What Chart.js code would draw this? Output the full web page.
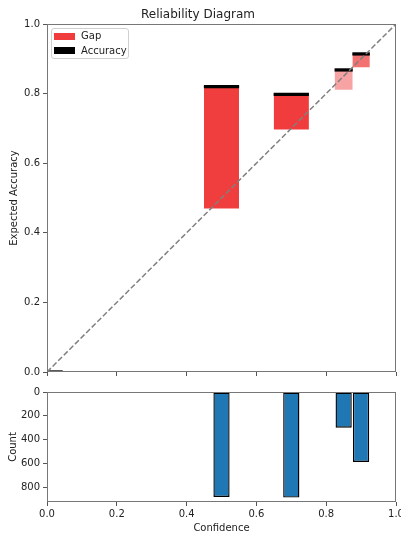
<!DOCTYPE html>
<html><head><meta charset="utf-8">
<script src="https://cdn.jsdelivr.net/npm/chart.js@4.4.1/dist/chart.umd.min.js"></script>
<style>
html,body{margin:0;padding:0;background:#fff;overflow:hidden}
#wrap{position:relative;width:401px;height:533px;font-family:"DejaVu Sans",sans-serif}
canvas{position:absolute;left:0}
#top{top:0}
#bot{top:380px}
#legend{position:absolute;left:51px;top:28px;width:76px;height:29px;border:1px solid #d0d0d0;border-radius:3px;background:rgba(255,255,255,0.8);font-size:10px;color:#222}
.sw{position:absolute;left:2px;width:21px;height:7px}
.lt{position:absolute;left:29px;line-height:12px;white-space:nowrap}
</style></head><body>
<div id="wrap">
<canvas id="top" width="401" height="380"></canvas>
<canvas id="bot" width="401" height="153"></canvas>
<div id="legend">
 <div class="sw" style="top:4px;background:rgb(240,60,60)"></div><div class="lt" style="top:1px">Gap</div>
 <div class="sw" style="top:18px;background:#000"></div><div class="lt" style="top:16px">Accuracy</div>
</div>
</div>
<script>
// ---- data ----
const binCenters   = [0.0, 0.5, 0.7, 0.85, 0.9];
const binWidths    = [0.09, 0.101, 0.101, 0.052, 0.05];
const accuracies   = [0.0, 0.820, 0.798, 0.868, 0.914];
const confidences  = [0.0, 0.470, 0.697, 0.811, 0.876];
const counts       = [0, 884, 889, 300, 589];
const histCenters  = [0.0, 0.5, 0.7, 0.85, 0.9];
const identity     = [0, 1];
const accTicks     = [0, 0.2, 0.4, 0.6, 0.8, 1.0];
const countTicks   = [0, 200, 400, 600, 800];

Chart.defaults.font.family = '"DejaVu Sans", sans-serif';
Chart.defaults.font.size = 10;
Chart.defaults.color = '#222';

const maxCount = Math.max(...counts);
const TICKC = '#555';
const framePlugin = {
  id: 'frame',
  afterDraw(chart) {
    const {ctx, chartArea: a} = chart;
    ctx.save();
    ctx.strokeStyle = '#777';
    ctx.lineWidth = 1;
    const l = Math.round(a.left) + 0.5, t = Math.round(a.top) + 0.5;
    const r = Math.round(a.right) - 0.5, b = Math.round(a.bottom) - 0.5;
    ctx.strokeRect(l, t, r - l, b - t);
    ctx.restore();
  }
};

const topDatasets = [{
  data: identity.map(v => ({x: v, y: v})),
  borderColor: '#808080', borderWidth: 1.5, borderDash: [5.5, 2.4],
  pointRadius: 0, fill: false, order: 0, clip: 0
}];
binCenters.forEach((c, i) => {
  const x0 = c - binWidths[i] / 2, x1 = c + binWidths[i] / 2;
  const lo = Math.min(accuracies[i], confidences[i]);
  const hi = Math.max(accuracies[i], confidences[i]);
  const a = 0.2 + 0.8 * counts[i] / maxCount;
  const col = `rgba(240,60,60,${a.toFixed(3)})`;
  if (hi > lo) {
    topDatasets.push({
      data: [{x: x0, y: hi}, {x: x1, y: hi}],
      fill: {value: lo}, backgroundColor: col, borderColor: col, borderWidth: 1,
      pointRadius: 0, order: 2, clip: 0
    });
  }
  topDatasets.push({
    data: [{x: x0, y: accuracies[i]}, {x: x1, y: accuracies[i]}],
    borderColor: '#000', borderWidth: 3.3, borderCapStyle: 'butt',
    pointRadius: 0, fill: false, order: 1, clip: 0
  });
});

new Chart(document.getElementById('top'), {
  type: 'line',
  data: {datasets: topDatasets},
  plugins: [framePlugin],
  options: {
    responsive: false, animation: false, devicePixelRatio: 1,
    layout: {padding: {top: 0, right: 5, left: 0, bottom: 0}},
    plugins: {
      legend: {display: false}, tooltip: {enabled: false},
      title: {display: true, text: 'Reliability Diagram', color: '#222',
              font: {size: 12, weight: 'normal'}, padding: {top: 7.6, bottom: 2}}
    },
    scales: {
      x: {type: 'linear', min: 0, max: 1,
          afterBuildTicks(s) { s.ticks = accTicks.map(v => ({value: v})); },
          ticks: {display: false},
          grid: {drawOnChartArea: false, tickLength: 4, color: TICKC},
          border: {display: false},
          afterFit(s) { s.height = 8; s.paddingLeft = 0; s.paddingRight = 0; }},
      y: {type: 'linear', min: 0, max: 1,
          afterBuildTicks(s) { s.ticks = accTicks.map(v => ({value: v})); },
          ticks: {padding: 3, callback: v => Number(v).toFixed(1)},
          grid: {drawOnChartArea: false, tickLength: 4, color: TICKC},
          border: {display: false},
          title: {display: true, text: 'Expected Accuracy', padding: {top: 8.5, bottom: 0}},
          afterFit(s) { s.width = 47; s.paddingTop = 0; s.paddingBottom = 0; }}
    }
  }
});

new Chart(document.getElementById('bot'), {
  type: 'bar',
  data: {datasets: [{
    data: histCenters.map((c, i) => ({x: c, y: counts[i]})),
    backgroundColor: '#1f77b4', borderColor: '#000', borderWidth: 1.4,
    borderSkipped: false, barPercentage: 0.93, categoryPercentage: 1.0
  }]},
  plugins: [framePlugin],
  options: {
    responsive: false, animation: false, devicePixelRatio: 1,
    layout: {padding: {top: 12, right: 5, left: 0, bottom: 0}},
    plugins: {legend: {display: false}, tooltip: {enabled: false}},
    scales: {
      x: {type: 'linear', min: 0, max: 1, offset: false,
          afterBuildTicks(s) { s.ticks = accTicks.map(v => ({value: v})); },
          ticks: {padding: 2, maxRotation: 0, autoSkip: false, callback: v => Number(v).toFixed(1)},
          grid: {offset: false, drawOnChartArea: false, tickLength: 4, color: TICKC},
          border: {display: false},
          title: {display: true, text: 'Confidence', padding: {top: 0, bottom: -1}},
          afterFit(s) { s.height = 31; s.paddingLeft = 0; s.paddingRight = 0; }},
      y: {type: 'linear', min: 0, max: 926, reverse: true,
          afterBuildTicks(s) { s.ticks = countTicks.map(v => ({value: v})); },
          ticks: {padding: 3},
          grid: {drawOnChartArea: false, tickLength: 4, color: TICKC},
          border: {display: false},
          title: {display: true, text: 'Count', padding: {top: 7.5, bottom: 0}},
          afterFit(s) { s.width = 47; s.paddingTop = 0; s.paddingBottom = 0; }}
    }
  }
});
</script>
</body></html>
